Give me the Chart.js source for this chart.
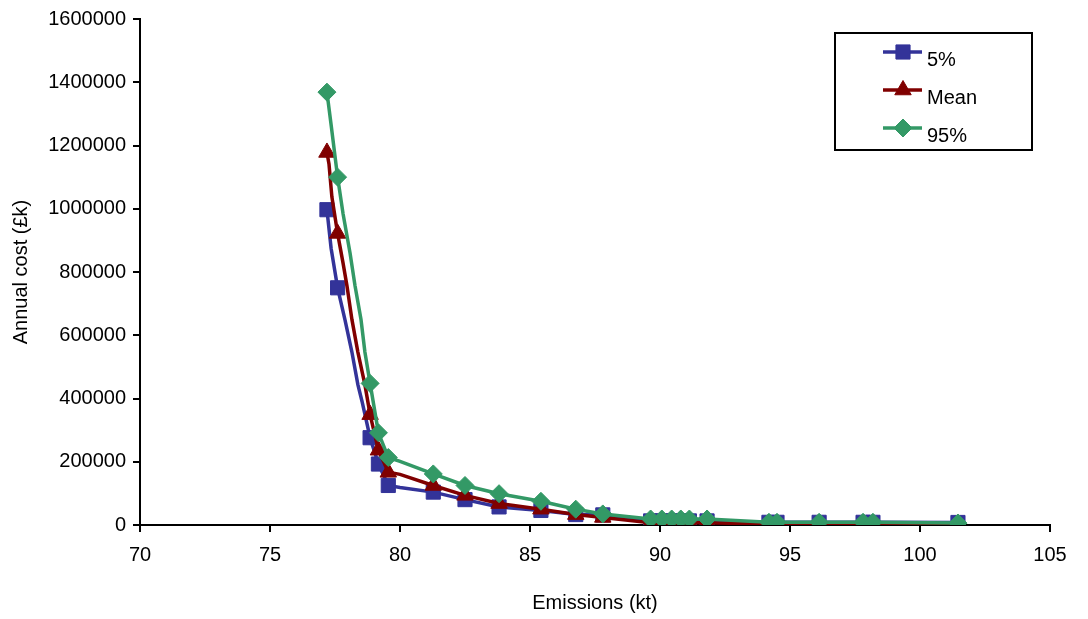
<!DOCTYPE html>
<html>
<head>
<meta charset="utf-8">
<title>Annual cost against emissions</title>
<script src="https://cdn.jsdelivr.net/npm/chart.js@4.4.1/dist/chart.umd.min.js"></script>
<style>
  html, body { margin: 0; padding: 0; background: #ffffff; }
  #wrap { position: relative; width: 1088px; height: 619px; }
</style>
</head>
<body>
<div id="wrap"><canvas id="chart" width="1088" height="619"></canvas></div>
<script>
// Series names
const seriesNames = ['5%', 'Mean', '95%'];

// Emission levels (kt) at the marked points, shared by the three series
const emissions = [77.19, 77.6, 78.85, 79.17, 79.55, 81.28, 82.5, 83.81, 85.42, 86.76, 87.8,
                   89.64, 90.07, 90.45, 90.8, 91.13, 91.81, 94.19, 94.5, 96.12, 97.81, 98.19, 101.46];

// Annual cost (£k) at the marked points
const cost5    = [997000, 750000, 276000, 192800, 125000, 104000, 80300, 57200, 46000, 33000, 32000,
                  13000, 13000, 13000, 13000, 13000, 13000, 8500, 8500, 8500, 8500, 8500, 8000];
const costMean = [1178000, 922000, 349000, 236500, 166600, 125000, 93750, 67800, 50000, 33000, 24000,
                  7000, 7000, 7000, 7000, 7000, 7000, 3000, 3000, 3000, 3000, 3000, 3000];
const cost95   = [1368750, 1100000, 447800, 291600, 213400, 161500, 125000, 99000, 75000, 50000, 35000,
                  19000, 19000, 19000, 19000, 19000, 19000, 8500, 8500, 8500, 8500, 8500, 6000];

// Additional unmarked points along each curve
const trace5X    = [77.35, 77.88, 78.15, 78.38, 78.54, 80.0];
const trace5Y    = [875000, 650000, 546900, 443750, 390600, 118750];
const traceMeanX = [77.27, 77.38, 77.81, 77.96, 78.15, 78.38, 78.65, 80.0];
const traceMeanY = [1140600, 1037500, 828100, 756250, 650000, 546900, 443750, 160000];
const trace95X   = [77.35, 77.81, 78.08, 78.27, 78.5, 78.65, 80.0];
const trace95Y   = [1265600, 984400, 859400, 756250, 650000, 546900, 201000];

// Axis tick values
const xTickValues = [70, 75, 80, 85, 90, 95, 100, 105];
const yTickValues = [0, 200000, 400000, 600000, 800000, 1000000, 1200000, 1400000, 1600000];

const FONT = "'Liberation Sans', Arial, Helvetica, sans-serif";
const FONT_SIZE = 20;
const COLORS = ['#333399', '#800000', '#339966'];
const STYLES = ['rect', 'triangle', 'rectRot'];
const RADII = [10, 9.5, 9];

// Merge marked and unmarked points into one sorted list per series
function buildSeries(values, tx, ty) {
  const pts = emissions.map((x, i) => ({ x: x, y: values[i], marked: true }));
  tx.forEach((x, i) => pts.push({ x: x, y: ty[i], marked: false }));
  pts.sort((a, b) => a.x - b.x);
  return pts;
}

const seriesData = [
  buildSeries(cost5, trace5X, trace5Y),
  buildSeries(costMean, traceMeanX, traceMeanY),
  buildSeries(cost95, trace95X, trace95Y)
];

function makeDataset(i) {
  return {
    label: seriesNames[i],
    data: seriesData[i],
    borderColor: COLORS[i],
    backgroundColor: COLORS[i],
    borderWidth: 3.5,
    tension: 0,
    pointStyle: STYLES[i],
    pointRadius: ctx => (ctx.raw && ctx.raw.marked ? RADII[i] : 0),
    pointHoverRadius: ctx => (ctx.raw && ctx.raw.marked ? RADII[i] : 0),
    pointBorderWidth: 1,
    pointBorderColor: COLORS[i],
    pointBackgroundColor: COLORS[i],
    order: 3 - i
  };
}

// Draw a marker shape for the legend samples
function drawMarker(ctx, style, r, x, y, color) {
  ctx.save();
  ctx.fillStyle = color;
  ctx.strokeStyle = color;
  ctx.lineWidth = 1;
  ctx.beginPath();
  if (style === 'rect') {
    const s = r * Math.SQRT1_2;
    ctx.rect(x - s, y - s, 2 * s, 2 * s);
  } else if (style === 'triangle') {
    for (let k = 0; k < 3; k++) {
      const a = k * 2 * Math.PI / 3;
      const px = x + Math.sin(a) * r, py = y - Math.cos(a) * r;
      if (k === 0) ctx.moveTo(px, py); else ctx.lineTo(px, py);
    }
    ctx.closePath();
  } else {
    ctx.moveTo(x, y - r); ctx.lineTo(x + r, y); ctx.lineTo(x, y + r); ctx.lineTo(x - r, y);
    ctx.closePath();
  }
  ctx.fill();
  ctx.stroke();
  ctx.restore();
}

// Legend inside a framed box at the top right of the plot
const boxedLegend = {
  id: 'boxedLegend',
  afterDraw(chart) {
    const ctx = chart.ctx;
    const bx = 835, by = 33, bw = 197, bh = 117;
    ctx.save();
    ctx.strokeStyle = '#000';
    ctx.lineWidth = 2;
    ctx.strokeRect(bx, by, bw, bh);
    ctx.font = FONT_SIZE + 'px ' + FONT;
    ctx.fillStyle = '#000';
    ctx.textBaseline = 'middle';
    ctx.textAlign = 'left';
    for (let i = 0; i < seriesNames.length; i++) {
      const y = 52 + i * 38;
      ctx.strokeStyle = COLORS[i];
      ctx.lineWidth = 3.5;
      ctx.beginPath();
      ctx.moveTo(883, y);
      ctx.lineTo(922, y);
      ctx.stroke();
      drawMarker(ctx, STYLES[i], RADII[i], 903, y, COLORS[i]);
      ctx.fillStyle = '#000';
      ctx.fillText(seriesNames[i], 927, y + 8);
    }
    ctx.restore();
  }
};

new Chart(document.getElementById('chart'), {
  type: 'line',
  data: { datasets: [0, 1, 2].map(makeDataset) },
  options: {
    responsive: false,
    animation: false,
    layout: { padding: { top: 13, right: 38, left: 0, bottom: 0 } },
    plugins: {
      legend: { display: false },
      tooltip: { enabled: false }
    },
    scales: {
      x: {
        type: 'linear',
        min: 70,
        max: 105,
        afterBuildTicks: s => { s.ticks = xTickValues.map(v => ({ value: v })); },
        afterFit: s => { s.height = 94; },
        grid: { display: true, drawOnChartArea: false, drawTicks: true, tickLength: 7, color: '#000', lineWidth: 2 },
        border: { display: true, color: '#000', width: 2 },
        ticks: { color: '#000', font: { family: FONT, size: FONT_SIZE }, padding: 11, maxRotation: 0,
                 callback: v => String(v) },
        title: { display: true, text: 'Emissions (kt)', color: '#000',
                 font: { family: FONT, size: FONT_SIZE }, padding: { top: 0, bottom: 4 } }
      },
      y: {
        type: 'linear',
        min: 0,
        max: 1600000,
        afterBuildTicks: s => { s.ticks = yTickValues.map(v => ({ value: v })); },
        afterFit: s => { s.width = 140; },
        grid: { display: true, drawOnChartArea: false, drawTicks: true, tickLength: 7, color: '#000', lineWidth: 2 },
        border: { display: true, color: '#000', width: 2 },
        ticks: { color: '#000', font: { family: FONT, size: FONT_SIZE }, padding: 7,
                 callback: v => String(v) },
        title: { display: true, text: 'Annual cost (£k)', color: '#000',
                 font: { family: FONT, size: FONT_SIZE }, padding: { top: 9, bottom: 0 } }
      }
    }
  },
  plugins: [boxedLegend]
});
</script>
</body>
</html>
